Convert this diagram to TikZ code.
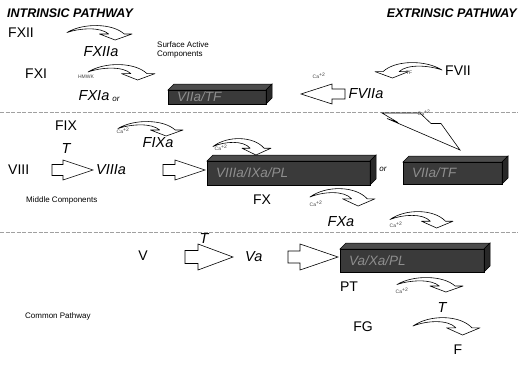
\documentclass[tikz,border=0pt]{standalone}
\usepackage{fontspec}
\setmainfont{Liberation Sans}
\definecolor{boxfront}{HTML}{3A3A3A}
\definecolor{boxtop}{HTML}{4C4C4C}
\definecolor{boxside}{HTML}{282828}
\definecolor{boxtext}{HTML}{8E8E8E}
\definecolor{sepline}{HTML}{A0A0A0}
\tikzset{
  lbl/.style={inner sep=0pt, font=\fontsize{14}{16}\selectfont},
  ilbl/.style={inner sep=0pt, font=\fontsize{14.5}{16}\selectfont\itshape},
  head/.style={inner sep=0pt, font=\fontsize{12.5}{14}\selectfont\bfseries\itshape},
  small/.style={inner sep=0pt, font=\fontsize{8}{8.5}\selectfont},
  ior/.style={inner sep=0pt, font=\fontsize{8}{9}\selectfont\itshape},
  tiny/.style={inner sep=0pt, font=\fontsize{5}{5}\selectfont, text=black!75},
  boxlbl/.style={inner sep=0pt, anchor=west, font=\fontsize{13.5}{15}\selectfont\itshape, text=boxtext},
  carrow/.style={draw=black, line width=0.6pt, fill=white, line join=round},
  barrow/.style={draw=black, line width=0.6pt, fill=white},
  sep/.style={draw=sepline, line width=0.8pt, dash pattern=on 4pt off 1.5pt},
}
% curved down arrow: x, y (top-left), width, height
\newcommand{\curvarrow}[4]{%
  \begin{scope}[shift={(#1,#2)}, xscale=#3, yscale=#4]
    \draw[carrow] (0,0.5) .. controls (0.25,-0.15) and (0.7,-0.12) .. (0.88,0.6)
      -- (1,0.6) -- (0.74,1) -- (0.5,0.6) -- (0.64,0.6)
      .. controls (0.52,0.12) and (0.2,0.2) .. cycle;
  \end{scope}}
% block arrow pointing right: x tail, y mid, length, head length, head half, body half
\newcommand{\rblock}[6]{%
  \draw[barrow] (#1,{#2-#6}) -- ({#1+#3-#4},{#2-#6}) -- ({#1+#3-#4},{#2-#5})
    -- ({#1+#3},#2) -- ({#1+#3-#4},{#2+#5}) -- ({#1+#3-#4},{#2+#6})
    -- (#1,{#2+#6}) -- cycle;}
% 3d box: name, x, y (front top-left), w, h, text
\newcommand{\threedbox}[6]{%
  \fill[boxfront] (#2,#3) rectangle ({#2+#4},{#3+#5});
  \filldraw[fill=boxtop, draw=black, line width=0.5pt] (#2,#3) -- ++(6,-6) -- ++(#4,0) -- ++(-6,6) -- cycle;
  \filldraw[fill=boxside, draw=black, line width=0.5pt] ({#2+#4},#3) -- ++(6,-6) -- ++(0,#5) -- ++(-6,6) -- cycle;
  \draw[black, line width=0.6pt] (#2,#3) rectangle ({#2+#4},{#3+#5});
  \node[boxlbl] (#1) at ({#2+9},{#3+#5/2}) {#6};}
\begin{document}
\begin{tikzpicture}[x=1pt, y=-1pt]
\useasboundingbox[fill=white] (0,0) rectangle (518,378);
% separators
\draw[sep] (0,112) -- (518,112);
\draw[sep] (0,232) -- (518,232);
% headings
\node[head, anchor=west] (intr) at (7,13) {INTRINSIC PATHWAY};
\node[head, anchor=east] (extr) at (517,13) {EXTRINSIC PATHWAY};
% top section
\node[lbl, anchor=west] (fxii) at (8,33) {FXII};
\curvarrow{67}{25}{65}{15}
\node[ilbl] (fxiia) at (101,52) {FXIIa};
\node[small, anchor=west, align=left] (sac) at (157,50) {Surface Active\\Components};
\node[lbl, anchor=west] (fxi) at (25,74) {FXI};
\curvarrow{88}{64}{67}{16}
\node[tiny] (hmwk) at (86,77) {HMWK};
\node[ilbl] (fxia) at (94,96) {FXIa};
\node[ior] (or1) at (116,99) {or};
\threedbox{b1}{168}{90}{98}{14}{VIIa/TF}
\node[tiny] (ca1) at (319,76) {Ca\textsuperscript{+2}};
\draw[barrow] (345,89) -- (332,89) -- (332,84) -- (301,94) -- (332,104) -- (332,99) -- (345,99) -- cycle;
\node[ilbl] (fviia) at (366,94) {FVIIa};
\begin{scope}[shift={(442,62)}, xscale=-67, yscale=16]
  \draw[carrow] (0,0.5) .. controls (0.25,-0.15) and (0.7,-0.12) .. (0.88,0.6)
    -- (1,0.6) -- (0.74,1) -- (0.5,0.6) -- (0.64,0.6)
    .. controls (0.52,0.12) and (0.2,0.2) .. cycle;
\end{scope}
\node[tiny] (tf) at (409,73) {TF};
\node[lbl, anchor=west] (fvii) at (445,71) {FVII};
% middle section
\node[lbl] (fix) at (66,126) {FIX};
\curvarrow{118}{121}{65}{15}
\node[tiny] (ca2) at (123,131) {Ca\textsuperscript{+2}};
\node[ilbl] (fixa) at (158,143) {FIXa};
\node[ilbl] (t1) at (66,149) {T};
\node[lbl, anchor=west] (viii) at (8,170) {VIII};
\rblock{52}{170}{41}{30}{10}{5.5}
\node[ilbl, anchor=west] (viiia) at (96,170) {VIIIa};
\node[small, anchor=west] (mid) at (26,200) {Middle Components};
\rblock{163}{170}{42}{30}{10}{5.5}
\threedbox{b2}{207}{161}{163}{24}{VIIIa/IXa/PL}
\curvarrow{213}{138}{58}{17}
\node[tiny] (ca3) at (221,148) {Ca\textsuperscript{+2}};
\node[ior] (or2) at (383,169) {or};
\threedbox{b3}{403}{162}{99}{22}{VIIa/TF}
\draw[barrow, line join=miter] (382,113) -- (420,113) -- (431,123.5) -- (441,123.5) -- (460,150) -- (387,118.5) -- (398,122.5) -- cycle;
\node[tiny] (ca4) at (424,113) {Ca\textsuperscript{+2}};
\node[lbl] (fx) at (262,200) {FX};
\curvarrow{310}{188}{65}{18}
\node[tiny] (ca5) at (316,204) {Ca\textsuperscript{+2}};
\node[ilbl] (fxa) at (341,222) {FXa};
\curvarrow{390}{211}{63}{17}
\node[tiny] (ca6) at (396,225) {Ca\textsuperscript{+2}};
% bottom section
\node[lbl] (v) at (143,256) {V};
\rblock{185}{257}{48}{35}{13}{6.5}
\node[ilbl] (t2) at (204,239) {T};
\node[ilbl, anchor=west] (va) at (245,257) {Va};
\rblock{288}{257}{50}{38}{13}{6}
\threedbox{b4}{340}{249}{144}{23}{Va/Xa/PL}
\node[lbl] (pt) at (349,287) {PT};
\curvarrow{397}{277}{66}{15}
\node[tiny] (ca7) at (402,291) {Ca\textsuperscript{+2}};
\node[ilbl] (t3) at (442,308) {T};
\node[lbl] (fg) at (363,327) {FG};
\curvarrow{413}{317}{67}{18}
\node[lbl] (f) at (458,350) {F};
\node[small, anchor=west] (cp) at (25,316) {Common Pathway};
\end{tikzpicture}
\end{document}
